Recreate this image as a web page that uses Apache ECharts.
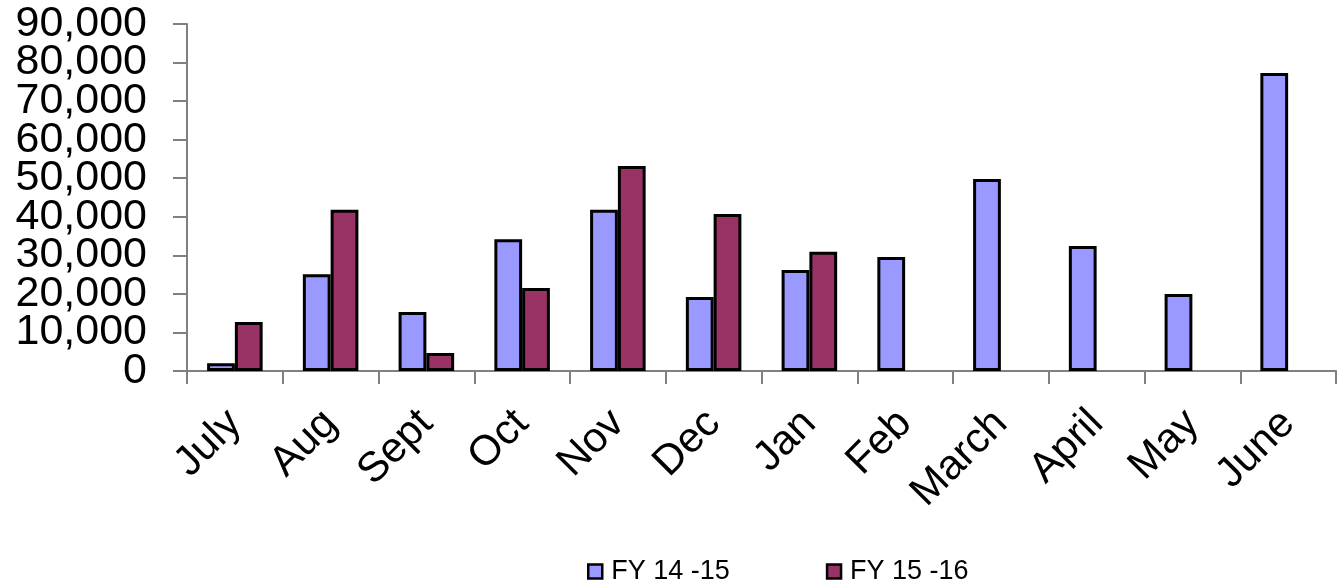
<!DOCTYPE html>
<html>
<head>
<meta charset="utf-8">
<script src="https://cdn.jsdelivr.net/npm/echarts@6/dist/echarts.min.js"></script>
<style>html,body{margin:0;padding:0;background:#fff;}#c{width:1340px;height:588px;}</style>
</head>
<body>
<div id="c"></div>
<script>
const categories = ['July','Aug','Sept','Oct','Nov','Dec','Jan','Feb','March','April','May','June'];
const fy1415 = [2000, 25100, 15300, 34200, 41800, 19200, 26200, 29600, 49800, 32400, 20000, 77300];
const fy1516 = [12700, 41800, 4700, 21500, 53200, 40700, 30900, null, null, null, null, null];
const seriesNames = ['FY 14 -15', 'FY 15 -16'];
const yMax = 90000, yStep = 10000;

const chart = echarts.init(document.getElementById('c'), null, {renderer: 'canvas'});
const font = '"Liberation Sans", Arial, sans-serif';
const fmt = v => v.toLocaleString('en-US');
function yAxisDef(parity, primary) {
  return {
    type: 'value', position: 'left',
    min: 0, max: yMax, interval: yStep,
    splitLine: {show: false},
    axisLine: {show: primary, onZero: false, lineStyle: {color: '#808080', width: 2}},
    axisTick: {show: primary, length: 14, lineStyle: {color: '#808080', width: 2}},
    axisLabel: {
      fontFamily: font, fontSize: 43, color: '#000', margin: 40,
      showMinLabel: true, showMaxLabel: true, hideOverlap: false,
      formatter: v => (Math.round(v / yStep) % 2 === parity) ? fmt(v) : ''
    }
  };
}
chart.setOption({
  animation: false,
  backgroundColor: '#ffffff',
  grid: {left: 187, top: 24, right: 4, bottom: 217, containLabel: false},
  legend: {
    left: 582, top: 553,
    itemWidth: 14, itemHeight: 14, itemGap: 96,
    icon: 'rect',
    itemStyle: {borderColor: '#000', borderWidth: 2.5},
    textStyle: {fontFamily: font, fontSize: 27, color: '#000', padding: [0,0,0,4]},
    data: seriesNames
  },
  xAxis: {
    type: 'category',
    data: categories,
    axisLine: {lineStyle: {color: '#808080', width: 2}},
    axisTick: {show: true, length: 13, alignWithLabel: false, lineStyle: {color: '#808080', width: 2}},
    axisLabel: {rotate: 45, fontFamily: font, fontSize: 42, color: '#000', margin: 46, interval: 0, hideOverlap: false}
  },
  yAxis: [yAxisDef(0, true), yAxisDef(1, false)],
  series: [
    {
      name: seriesNames[0], type: 'bar', data: fy1415, yAxisIndex: 0,
      barGap: '0%', barCategoryGap: '42%',
      itemStyle: {color: '#9999FF', borderColor: '#000', borderWidth: 3}
    },
    {
      name: seriesNames[1], type: 'bar', data: fy1516, yAxisIndex: 0,
      barGap: '0%', barCategoryGap: '42%',
      itemStyle: {color: '#993366', borderColor: '#000', borderWidth: 3}
    }
  ]
});
</script>
</body>
</html>
